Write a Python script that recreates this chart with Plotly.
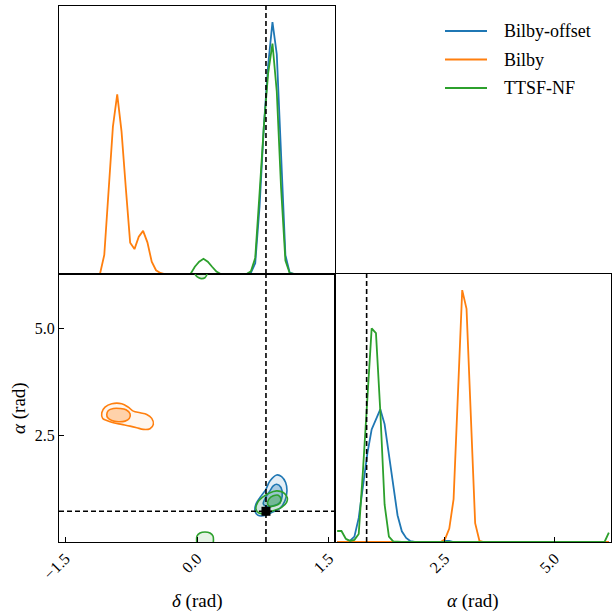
import numpy as np
import plotly.graph_objects as go

# ---------------------------------------------------------------------------
# Series and styling
# ---------------------------------------------------------------------------
SERIES = ["Bilby-offset", "Bilby", "TTSF-NF"]
COLORS = {"Bilby-offset": "#1f77b4", "Bilby": "#ff7f0e", "TTSF-NF": "#2ca02c"}
RGB = {"Bilby-offset": (31, 119, 180), "Bilby": (255, 127, 14), "TTSF-NF": (44, 160, 44)}

N_BINS = 64
DELTA_LIM = [-np.pi / 2, np.pi / 2]
ALPHA_LIM = [0.0, 2 * np.pi]

# injected (true) parameters
DELTA_TRUE = 0.785
ALPHA_TRUE = 0.72

# bin centres of the 1-D marginal histograms
delta_centers = DELTA_LIM[0] + (np.arange(N_BINS) + 0.5) * (DELTA_LIM[1] - DELTA_LIM[0]) / N_BINS
alpha_centers = ALPHA_LIM[0] + (np.arange(N_BINS) + 0.5) * (ALPHA_LIM[1] - ALPHA_LIM[0]) / N_BINS

# ---------------------------------------------------------------------------
# 1-D marginal posteriors of delta (64 bins, scaled to the panel height)
# ---------------------------------------------------------------------------
delta_bilby_offset = [
    0, 0, 0, 0, 0, 0, 0, 0, 0, 0, 0, 0, 0, 0, 0, 0,
    0, 0, 0, 0, 0, 0, 0, 0, 0, 0, 0, 0, 0, 0, 0, 0,
    0, 0, 0, 0, 0, 0, 0, 0, 0, 0, 0, 0, 0.005, 0.04, 0.25, 0.55,
    0.78, 0.94, 0.82, 0.42, 0.07, 0.005, 0, 0, 0, 0, 0, 0, 0, 0, 0, 0,
]
delta_bilby = [
    0, 0, 0, 0, 0, 0, 0, 0, 0, 0, 0.071, 0.307, 0.55, 0.67, 0.532, 0.32,
    0.117, 0.093, 0.139, 0.161, 0.118, 0.046, 0.014, 0.004, 0, 0, 0, 0, 0, 0, 0, 0,
    0, 0, 0, 0, 0, 0, 0, 0, 0, 0, 0, 0, 0, 0, 0, 0,
    0, 0, 0, 0, 0, 0, 0, 0, 0, 0, 0, 0, 0, 0, 0, 0,
]
delta_ttsf_nf = [
    0, 0, 0, 0, 0, 0, 0, 0, 0, 0, 0, 0, 0, 0, 0, 0,
    0, 0, 0, 0, 0, 0, 0, 0, 0, 0, 0, 0, 0, 0, 0, 0.027,
    0.046, 0.057, 0.046, 0.027, 0.009, 0, 0, 0, 0, 0, 0, 0, 0.01, 0.06, 0.30, 0.55,
    0.75, 0.86, 0.68, 0.32, 0.05, 0.003, 0, 0, 0, 0, 0, 0, 0, 0, 0, 0,
]

# ---------------------------------------------------------------------------
# 1-D marginal posteriors of alpha (64 bins, scaled to the panel height)
# ---------------------------------------------------------------------------
alpha_bilby_offset = [
    0, 0, 0, 0.005, 0.02, 0.09, 0.21, 0.33, 0.42, 0.46, 0.495, 0.44, 0.32, 0.2, 0.1, 0.04,
    0.015, 0.003, 0, 0, 0, 0, 0, 0, 0, 0.004, 0.004, 0, 0, 0, 0, 0,
    0, 0, 0, 0, 0, 0, 0, 0, 0, 0, 0, 0, 0, 0, 0, 0,
    0, 0, 0, 0, 0, 0, 0, 0, 0, 0, 0, 0, 0, 0, 0, 0,
]
alpha_bilby = [
    0, 0, 0, 0, 0, 0, 0, 0, 0, 0, 0, 0, 0, 0, 0, 0,
    0, 0, 0, 0, 0, 0, 0, 0, 0, 0.01, 0.05, 0.16, 0.53, 0.94, 0.87, 0.46,
    0.07, 0.004, 0, 0, 0, 0, 0, 0, 0, 0, 0, 0, 0, 0, 0, 0,
    0, 0, 0, 0, 0, 0, 0, 0, 0, 0, 0, 0, 0, 0, 0, 0,
]
alpha_ttsf_nf = [
    0.041, 0.041, 0.012, 0.004, 0.008, 0.03, 0.27, 0.53, 0.797, 0.779, 0.49, 0.14, 0.02, 0.002, 0, 0,
    0, 0, 0, 0, 0, 0, 0, 0, 0, 0, 0, 0, 0, 0, 0, 0,
    0, 0, 0, 0, 0, 0, 0, 0, 0, 0, 0, 0, 0, 0, 0, 0,
    0, 0, 0, 0, 0, 0, 0, 0, 0, 0, 0, 0, 0, 0, 0, 0.035,
]

DELTA_MARGINALS = {"Bilby-offset": delta_bilby_offset, "Bilby": delta_bilby, "TTSF-NF": delta_ttsf_nf}
ALPHA_MARGINALS = {"Bilby-offset": alpha_bilby_offset, "Bilby": alpha_bilby, "TTSF-NF": alpha_ttsf_nf}

# ---------------------------------------------------------------------------
# 2-D credible contours in the (delta, alpha) plane
# ---------------------------------------------------------------------------
bilby_offset_outer_delta = [0.907, 0.963, 1.009, 1.024, 1.001, 0.944, 0.850, 0.754, 0.691, 0.660, 0.671, 0.717, 0.781, 0.830]
bilby_offset_outer_alpha = [1.572, 1.535, 1.395, 1.199, 0.965, 0.787, 0.693, 0.614, 0.631, 0.731, 0.888, 1.044, 1.222, 1.432]
bilby_offset_inner_delta = [0.907, 0.956, 0.970, 0.944, 0.868, 0.793, 0.754, 0.781, 0.830, 0.868]
bilby_offset_inner_alpha = [1.355, 1.278, 1.082, 0.928, 0.848, 0.834, 0.888, 1.044, 1.199, 1.316]

bilby_outer_delta = [-1.084, -1.047, -0.970, -0.857, -0.782, -0.725, -0.648, -0.572, -0.515, -0.497,
                     -0.535, -0.611, -0.686, -0.762, -0.857, -0.952, -1.027, -1.073]
bilby_outer_alpha = [3.030, 3.161, 3.241, 3.241, 3.161, 3.068, 3.030, 2.991, 2.897, 2.757,
                     2.656, 2.640, 2.680, 2.717, 2.757, 2.797, 2.850, 2.896]
bilby_inner_delta = [-1.027, -1.009, -0.952, -0.876, -0.808, -0.762, -0.770, -0.819, -0.895, -0.970, -1.016]
bilby_inner_alpha = [2.991, 3.084, 3.131, 3.131, 3.100, 3.007, 2.897, 2.834, 2.820, 2.850, 2.913]

ttsf_nf_outer_delta = [0.907, 0.982, 1.027, 1.020, 0.963, 0.868, 0.774, 0.705, 0.671, 0.691, 0.743, 0.819]
ttsf_nf_outer_alpha = [1.199, 1.161, 1.044, 0.928, 0.811, 0.733, 0.671, 0.678, 0.771, 0.928, 1.044, 1.145]
ttsf_nf_inner_delta = [0.868, 0.925, 0.956, 0.944, 0.887, 0.830, 0.804, 0.819]
ttsf_nf_inner_alpha = [1.082, 1.098, 1.005, 0.911, 0.848, 0.834, 0.888, 1.005]

# secondary TTSF-NF mode, wrapping across alpha = 0 / 2*pi
ttsf_nf_low_delta = [-0.003, 0.000, 0.034, 0.091, 0.148, 0.182, 0.186]
ttsf_nf_low_alpha = [0.000, 0.140, 0.210, 0.234, 0.210, 0.140, 0.000]
ttsf_nf_high_delta = [-0.020, -0.015, 0.020, 0.053, 0.090, 0.110, 0.115]
ttsf_nf_high_alpha = [6.283, 6.255, 6.195, 6.175, 6.195, 6.255, 6.283]

CONTOURS = {
    "Bilby-offset": [(bilby_offset_outer_delta, bilby_offset_outer_alpha, 0.12),
                     (bilby_offset_inner_delta, bilby_offset_inner_alpha, 0.30)],
    "Bilby": [(bilby_outer_delta, bilby_outer_alpha, 0.07),
              (bilby_inner_delta, bilby_inner_alpha, 0.30)],
    "TTSF-NF": [(ttsf_nf_outer_delta, ttsf_nf_outer_alpha, 0.10),
                (ttsf_nf_inner_delta, ttsf_nf_inner_alpha, 0.35)],
}

DELTA_TICKS = [-1.5, 0.0, 1.5]
DELTA_TICK_TEXT = ["\u22121.5", "0.0", "1.5"]
ALPHA_TICKS = [2.5, 5.0]
ALPHA_TICK_TEXT = ["2.5", "5.0"]

# ---------------------------------------------------------------------------
# Figure
# ---------------------------------------------------------------------------
W, H = 612, 614
FONT = "Liberation Serif"


def px_x(p):
    return p / W


def px_y(p):
    return (H - p) / H


fig = go.Figure()


def rgba(name, a):
    r, g, b = RGB[name]
    return f"rgba({r},{g},{b},{a})"


def closed(xs, ys):
    return list(xs) + [xs[0]], list(ys) + [ys[0]]


# 2-D panel: filled contours then outlines
for name in SERIES:
    for xs, ys, a in CONTOURS[name]:
        cx, cy = closed(xs, ys)
        fig.add_trace(go.Scatter(
            x=cx, y=cy, xaxis="x2", yaxis="y2", mode="lines",
            line=dict(color=COLORS[name], width=1.6, shape="spline", smoothing=1.0),
            fill="toself", fillcolor=rgba(name, a), showlegend=False, hoverinfo="skip"))

for xs, ys in [(ttsf_nf_low_delta, ttsf_nf_low_alpha), (ttsf_nf_high_delta, ttsf_nf_high_alpha)]:
    fig.add_trace(go.Scatter(
        x=xs, y=ys, xaxis="x2", yaxis="y2", mode="lines",
        line=dict(width=0, shape="spline"), fill="toself",
        fillcolor=rgba("TTSF-NF", 0.12), showlegend=False, hoverinfo="skip"))
    fig.add_trace(go.Scatter(
        x=xs, y=ys, xaxis="x2", yaxis="y2", mode="lines",
        line=dict(color=COLORS["TTSF-NF"], width=1.6, shape="spline"),
        showlegend=False, hoverinfo="skip"))

# 1-D marginals
for name in SERIES:
    fig.add_trace(go.Scatter(
        x=delta_centers, y=DELTA_MARGINALS[name], xaxis="x", yaxis="y", mode="lines",
        line=dict(color=COLORS[name], width=1.8), name=name, showlegend=False, hoverinfo="skip"))
    fig.add_trace(go.Scatter(
        x=alpha_centers, y=ALPHA_MARGINALS[name], xaxis="x3", yaxis="y3", mode="lines",
        line=dict(color=COLORS[name], width=1.8), showlegend=False, hoverinfo="skip"))

# truth markers
dash = dict(color="black", width=1.6, dash="5px,3px")
fig.add_trace(go.Scatter(x=[DELTA_TRUE, DELTA_TRUE], y=[0, 1], xaxis="x", yaxis="y",
                         mode="lines", line=dash, showlegend=False, hoverinfo="skip"))
fig.add_trace(go.Scatter(x=[DELTA_TRUE, DELTA_TRUE], y=ALPHA_LIM, xaxis="x2", yaxis="y2",
                         mode="lines", line=dash, showlegend=False, hoverinfo="skip"))
fig.add_trace(go.Scatter(x=DELTA_LIM, y=[ALPHA_TRUE, ALPHA_TRUE], xaxis="x2", yaxis="y2",
                         mode="lines", line=dash, showlegend=False, hoverinfo="skip"))
fig.add_trace(go.Scatter(x=[ALPHA_TRUE, ALPHA_TRUE], y=[0, 1], xaxis="x3", yaxis="y3",
                         mode="lines", line=dash, showlegend=False, hoverinfo="skip"))
fig.add_trace(go.Scatter(x=[DELTA_TRUE], y=[ALPHA_TRUE], xaxis="x2", yaxis="y2",
                         mode="markers", marker=dict(symbol="square", size=9, color="black",
                                                     line=dict(width=0)),
                         showlegend=False, hoverinfo="skip"))

# axes
X_LEFT = [px_x(59), px_x(335)]
X_RIGHT = [px_x(335), px_x(611)]
Y_TOP = [px_y(274), px_y(6)]
Y_BOTTOM = [px_y(542), px_y(274)]

frame = dict(showline=True, mirror=True, linecolor="black", linewidth=1,
             showgrid=False, zeroline=False, ticks="inside", ticklen=5,
             tickcolor="black", tickwidth=1, automargin=False,
             tickfont=dict(family=FONT, size=16, color="black"))

fig.update_layout(
    width=W, height=H, margin=dict(l=0, r=0, t=0, b=0, autoexpand=False),
    paper_bgcolor="white", plot_bgcolor="white",
    font=dict(family=FONT, color="black"),
    showlegend=False,
    xaxis=dict(frame, domain=X_LEFT, range=DELTA_LIM, anchor="y",
               showticklabels=False, ticks=""),
    yaxis=dict(frame, domain=Y_TOP, range=[0, 1], anchor="x",
               showticklabels=False, ticks=""),
    xaxis2=dict(frame, domain=X_LEFT, range=DELTA_LIM, anchor="y2",
                tickvals=DELTA_TICKS, ticktext=DELTA_TICK_TEXT, tickangle=-45),
    yaxis2=dict(frame, domain=Y_BOTTOM, range=ALPHA_LIM, anchor="x2",
                tickvals=ALPHA_TICKS, ticktext=ALPHA_TICK_TEXT),
    xaxis3=dict(frame, domain=X_RIGHT, range=ALPHA_LIM, anchor="y3",
                tickvals=ALPHA_TICKS, ticktext=ALPHA_TICK_TEXT, tickangle=-45),
    yaxis3=dict(frame, domain=Y_BOTTOM, range=[0, 1], anchor="x3",
                showticklabels=False, ticks=""),
)

# axis titles
title_font = dict(family=FONT, size=19, color="black")
fig.add_annotation(text="<i>\u03b4</i> (rad)", x=px_x(197), y=px_y(601), xref="paper", yref="paper",
                   showarrow=False, xanchor="center", yanchor="middle", font=title_font)
fig.add_annotation(text="<i>\u03b1</i> (rad)", x=px_x(473), y=px_y(601), xref="paper", yref="paper",
                   showarrow=False, xanchor="center", yanchor="middle", font=title_font)
fig.add_annotation(text="<i>\u03b1</i> (rad)", x=px_x(19), y=px_y(408), xref="paper", yref="paper",
                   showarrow=False, xanchor="center", yanchor="middle", textangle=-90, font=title_font)

# legend
for i, name in enumerate(SERIES):
    yy = px_y(31 + 28.5 * i)
    fig.add_shape(type="line", xref="paper", yref="paper", x0=px_x(445), x1=px_x(487),
                  y0=yy, y1=yy, line=dict(color=COLORS[name], width=1.8))
    fig.add_annotation(text=name, x=px_x(502), y=yy, xref="paper", yref="paper",
                       showarrow=False, xanchor="left", yanchor="middle",
                       font=dict(family=FONT, size=18, color="black"))

fig.write_html("out.html")
